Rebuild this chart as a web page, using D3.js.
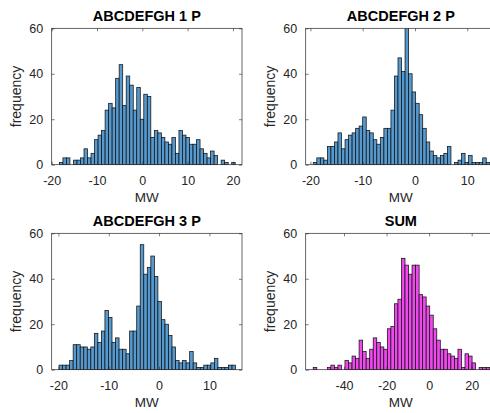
<!DOCTYPE html>
<html>
<head>
<meta charset="utf-8">
<script src="https://cdn.jsdelivr.net/npm/d3@7"></script>
<style>
  body { margin: 0; background: #fff; }
  text { font-family: "Liberation Sans", Arial, sans-serif; }
</style>
</head>
<body>
<div id="chart"></div>
<script>
// Histogram data (50 bins per panel)
const titles = ["ABCDEFGH 1 P", "ABCDEFGH 2 P", "ABCDEFGH 3 P", "SUM"]

const counts1 = [1,3,3,0,2,2,3,7,3,5, 11,13,15,24,27,25,38,44,26,39,
  35,24,34,20,31,30,12,15,14,12, 10,9,12,5,15,13,12,9,9,11,
  7,5,3,6,4,0,2,1,0,1]
const counts2 = [1,3,3,2,8,8,10,14,7,11, 13,14,16,17,21,15,14,11,9,12,
  16,16,24,39,47,41,62,40,32,27, 22,16,10,6,4,3,4,5,8,0,
  1,2,5,1,4,1,1,1,3,1]
const counts3 = [2,2,2,4,11,11,10,10,9,10, 16,12,17,26,23,12,14,9,9,7,
  17,17,28,55,42,45,50,41,30,22, 20,15,10,4,3,4,3,8,3,1,
  1,2,2,3,5,1,1,1,2,2]
const counts4 = [1,0,0,0,1,2,1,2,0,4, 3,6,5,13,8,5,9,14,12,10,
  9,18,19,29,31,49,46,42,46,46, 33,32,28,24,18,13,9,9,7,6,
  5,9,1,7,6,3,0,1,1,1]

const binStarts = [-18.3, -19.45, -19.87, -54.47]
const binWidths = [0.776, 0.675, 0.7014, 1.659]
const xDomains = [[-20, 22.0], [-20.9, 15.49], [-21.33, 16.48], [-58.0, 31.43]]
const xTicks = [[-20, -10, 0, 10, 20], [-20, -10, 0, 10], [-20, -10, 0, 10], [-40, -20, 0, 20]]
const yTicks = [0, 20, 40, 60]
const allCounts = [counts1, counts2, counts3, counts4]

const fills = ["#5599cf", "#5599cf", "#5599cf", "#ef48ef"]
const axisColor = "#262626"

// panel boxes
const boxes = [
  {left: 51.7, top: 28.3},
  {left: 305.7, top: 28.3},
  {left: 51.7, top: 233.3},
  {left: 305.7, top: 233.3}
]
const pw = 190.3, ph = 136.4

const svg = d3.select("#chart")
  .append("svg")
  .attr("width", 490)
  .attr("height", 413)

svg.append("rect").attr("width", 490).attr("height", 413).attr("fill", "#fff")

allCounts.forEach((counts, p) => {
  const g = svg.append("g")
    .attr("transform", "translate(" + boxes[p].left + "," + boxes[p].top + ")")

  const x = d3.scaleLinear().domain(xDomains[p]).range([0, pw])
  const y = d3.scaleLinear().domain([0, 60]).range([ph, 0])

  g.append("clipPath").attr("id", "clip" + p)
    .append("rect").attr("width", pw).attr("height", ph)

  // bars
  g.append("g")
    .attr("clip-path", "url(#clip" + p + ")")
    .selectAll("rect")
    .data(counts.map((c, i) => ({c: c, x0: binStarts[p] + i * binWidths[p], x1: binStarts[p] + (i + 1) * binWidths[p]})))
    .enter()
    .append("rect")
      .attr("x", d => x(d.x0))
      .attr("width", d => x(d.x1) - x(d.x0))
      .attr("y", d => y(d.c))
      .attr("height", d => y(0) - y(d.c))
      .attr("fill", fills[p])
      .attr("stroke", "#111")
      .attr("stroke-width", 0.75)

  // axes, ticks pointing in
  const bottom = g.append("g")
    .attr("transform", "translate(0," + ph + ")")
    .call(d3.axisBottom(x).tickValues(xTicks[p]).tickSize(-3).tickPadding(11.5).tickFormat(d3.format("d")))
  g.append("g")
    .call(d3.axisTop(x).tickValues(xTicks[p]).tickSize(-3).tickFormat(""))
  g.append("g")
    .call(d3.axisLeft(y).tickValues(yTicks).tickSize(-3).tickPadding(8.5))
  g.append("g")
    .attr("transform", "translate(" + pw + ",0)")
    .call(d3.axisRight(y).tickValues(yTicks).tickSize(-3).tickFormat(""))

  g.selectAll(".domain").remove()
  g.selectAll(".tick line").attr("stroke", axisColor).attr("stroke-width", 0.6)
  g.selectAll(".tick text")
    .attr("fill", axisColor)
    .attr("font-size", 12.5)
    .style("font-family", "'Liberation Sans', Arial, sans-serif")
  bottom.selectAll(".tick text").text(d => d < 0 ? "-" + Math.abs(d) : d)

  // box
  g.append("rect")
    .attr("width", pw).attr("height", ph)
    .attr("fill", "none")
    .attr("stroke", axisColor)
    .attr("stroke-width", 0.7)

  // title
  g.append("text")
    .attr("x", pw / 2)
    .attr("y", -7.6)
    .attr("text-anchor", "middle")
    .attr("font-size", 14.5)
    .attr("font-weight", "bold")
    .attr("fill", "#000")
    .text(titles[p])

  // x label
  g.append("text")
    .attr("x", pw / 2)
    .attr("y", ph + 37.5)
    .attr("text-anchor", "middle")
    .attr("font-size", 13.5)
    .attr("fill", axisColor)
    .text("MW")

  // y label
  g.append("text")
    .attr("transform", "rotate(-90)")
    .attr("x", -ph / 2)
    .attr("y", -31)
    .attr("text-anchor", "middle")
    .attr("font-size", 14)
    .attr("fill", axisColor)
    .text("frequency")
})
</script>
</body>
</html>
